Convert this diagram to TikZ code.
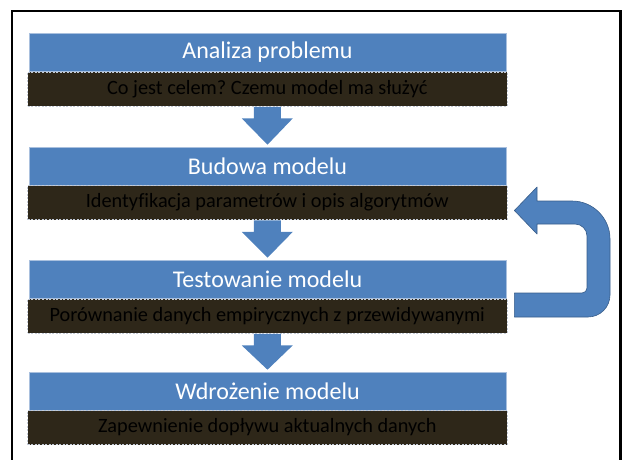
\documentclass[tikz,border=0pt]{standalone}
\usepackage{fontspec}
\setmainfont{Carlito}[Ligatures=NoCommon]
\usetikzlibrary{calc}
\definecolor{ofblue}{HTML}{4F81BD}
\definecolor{ofblueline}{HTML}{385D8A}
\definecolor{darkfill}{HTML}{2E2719}
\definecolor{dashline}{HTML}{C3CAD6}
\definecolor{bluerim}{HTML}{A9C0DE}
\frenchspacing
\tikzset{
  titlebox/.style={rectangle, fill=ofblue, draw=bluerim, line width=0.6pt,
    minimum width=477pt, minimum height=38pt, inner sep=0pt,
    text=white, font=\fontsize{24}{27}\selectfont},
  subbox/.style={rectangle, fill=darkfill, draw=dashline, line width=0.8pt,
    dash pattern=on 2pt off 1.5pt,
    minimum width=479.5pt, minimum height=34pt, inner sep=0pt,
    text=black, font=\fontsize{20.3}{23}\selectfont},
  downarrow/.style={fill=ofblue},
  uturn/.style={fill=ofblue, draw=ofblueline, line width=0.6pt, line join=round}
}
\begin{document}
\begin{tikzpicture}[x=1pt,y=-1pt]
\useasboundingbox (0,0) rectangle (622,459);
\begin{scope}
\clip (0,0) rectangle (622,459);
\draw[line width=2.3pt] (12,11) rectangle (620.5,475);
\end{scope}

\node[titlebox] (b1) at (267.5,52.5) {Analiza problemu};
\node[subbox]   (d1) at (267.25,89) {Co jest celem? Czemu model ma służyć};
\node[titlebox] (b2) at (267.5,166) {Budowa modelu};
\node[subbox]   (d2) at (267.25,202.5) {Identyfikacja parametrów i opis algorytmów};
\node[titlebox] (b3) at (267.5,279) {Testowanie modelu};
\node[subbox]   (d3) at (267.25,316) {Porównanie danych empirycznych z przewidywanymi};
\node[titlebox] (b4) at (267.5,391) {Wdrożenie modelu};
\node[subbox]   (d4) at (267.25,427.5) {Zapewnienie dopływu aktualnych danych};

\foreach \a/\b in {d1/b2, d2/b3, d3/b4}{
  \fill[downarrow]
    ($(\a.south)+(-13.5,0.5)$) -- ($(\a.south)+(-13.5,12)$) -- ($(\a.south)+(-25.5,12)$)
    -- ($(\b.north)+(0,-2)$)
    -- ($(\a.south)+(25.5,12)$) -- ($(\a.south)+(13.5,12)$) -- ($(\a.south)+(13.5,0.5)$) -- cycle;
}

\coordinate (tip) at ($(d2.east)+(7,8)$);
\coordinate (tail) at ($(d3.east)+(7,0)$);
\draw[uturn] (tip) -- (537,187) -- (537,201) -- (572,201)
  arc[start angle=-90,end angle=0,radius=38] -- (610,295)
  arc[start angle=0,end angle=90,radius=22] -- (tail |- 0,317) -- (tail |- 0,293)
  -- (582,293) arc[start angle=90,end angle=0,radius=5] -- (587,236)
  arc[start angle=0,end angle=-90,radius=12] -- (537,224) -- (537,234) -- cycle;
\end{tikzpicture}
\end{document}
